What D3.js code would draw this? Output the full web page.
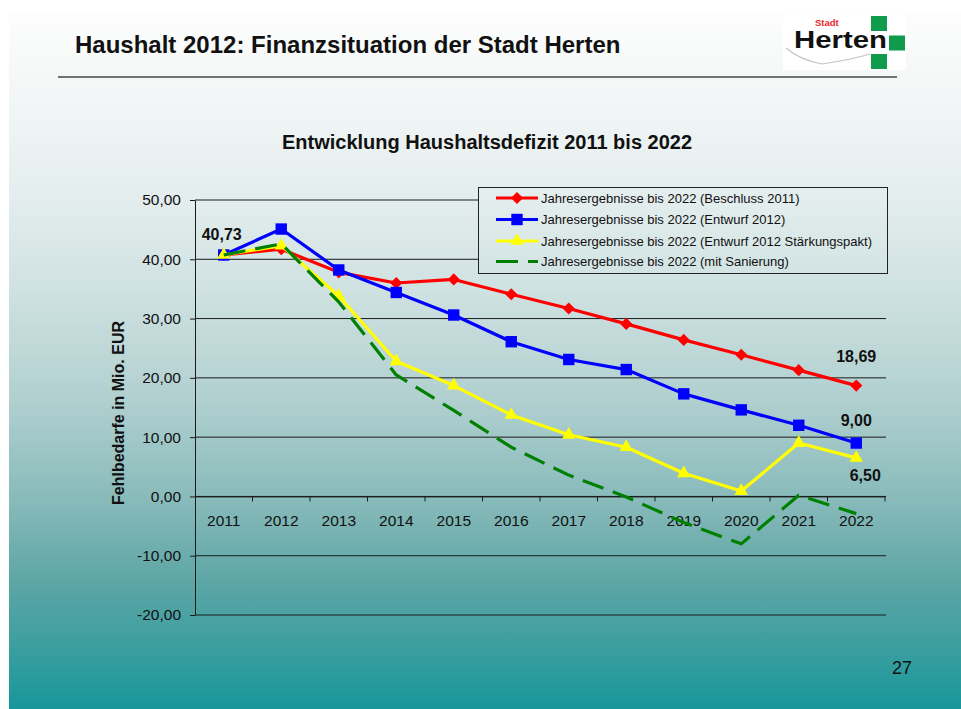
<!DOCTYPE html>
<html>
<head>
<meta charset="utf-8">
<script src="https://cdn.jsdelivr.net/npm/d3@7"></script>
<style>
    body { margin: 0; background: #fff; }
    text { font-family: "Liberation Sans", Arial, sans-serif; fill: #111; }
</style>
</head>
<body>
<div id="chart"></div>
<script>
'use strict'
/*
Haushaltsdefizit 2011-2022 (Folie 27)
*/

// Daten
const years = ['2011','2012','2013','2014','2015','2016','2017','2018','2019','2020','2021','2022'];
const beschluss_2011 = [40.73, 41.7, 37.8, 36.0, 36.6, 34.1, 31.7, 29.1, 26.4, 23.9, 21.3, 18.69];
const entwurf_2012 = [40.73, 45.1, 38.2, 34.4, 30.6, 26.1, 23.1, 21.4, 17.3, 14.6, 12.0, 9.00];
const staerkungspakt = [40.73, 42.3, 33.8, 22.8, 18.7, 13.75, 10.4, 8.3, 3.9, 0.9, 9.0, 6.50];
const sanierung = [40.73, 42.6, 32.8, 20.5, 14.5, 8.3, 3.6, -0.1, -4.4, -8.0, 0.2, -2.9];
const series_names = [
    'Jahresergebnisse bis 2022 (Beschluss 2011)',
    'Jahresergebnisse bis 2022 (Entwurf 2012)',
    'Jahresergebnisse bis 2022 (Entwurf 2012 Stärkungspakt)',
    'Jahresergebnisse bis 2022 (mit Sanierung)'
];
const y_ticks = [50, 40, 30, 20, 10, 0, -10, -20];
// Beschriftete Werte: [Reihe, Jahr]
const value_labels = [[0, '2011'], [0, '2022'], [1, '2022'], [2, '2022']];

const all_series = [beschluss_2011, entwurf_2012, staerkungspakt, sanierung];
const colors = ['#ff0000', '#0000ff', '#ffff00', '#008000'];
const markers = ['diamond', 'square', 'triangle', null];

// deutsches Zahlenformat, normales Minuszeichen
const fmt = v => d3.format('.2f')(v).replace('.', ',').replace('\u2212', '-');

const svg = d3.select('#chart').append('svg')
    .attr('width', 961)
    .attr('height', 709);

// Hintergrund (Verlauf weiss -> tuerkis), im Seitenkoordinatensystem
const grad = svg.append('defs').append('linearGradient')
    .attr('id', 'bg')
    .attr('gradientUnits', 'userSpaceOnUse')
    .attr('x1', 0).attr('y1', 13).attr('x2', 0).attr('y2', 709);
[
    [0, '#fdfdfd'], [0.12, '#f3f6f6'], [0.27, '#e3eded'], [0.41, '#cde0e0'],
    [0.56, '#b0cfcf'], [0.7, '#88baba'], [0.815, '#5ea6a6'], [0.915, '#3a9e9f'], [1, '#17979a']
].forEach(s => grad.append('stop').attr('offset', s[0]).attr('stop-color', s[1]));

svg.append('rect')
    .attr('x', 9).attr('y', 13)
    .attr('width', 952).attr('height', 696)
    .attr('fill', 'url(#bg)');

// Kopfzeile
svg.append('text')
    .text('Haushalt 2012: Finanzsituation der Stadt Herten')
    .attr('x', 75).attr('y', 53)
    .attr('font-size', 24).attr('font-weight', 'bold');
svg.append('line')
    .attr('x1', 58).attr('x2', 897).attr('y1', 77).attr('y2', 77)
    .attr('stroke', '#444').attr('stroke-width', 1.5);

// Logo
const logo = svg.append('g');
logo.append('rect').attr('x', 783).attr('y', 14).attr('width', 123).attr('height', 56).attr('fill', '#fff');
logo.append('path')
    .attr('d', 'M786,48 Q800,60 822,64 Q850,60 870,54')
    .attr('fill', 'none').attr('stroke', '#c4c4c4').attr('stroke-width', 1.2);
logo.append('text').text('Stadt')
    .attr('x', 815).attr('y', 26)
    .attr('font-size', 9.5).attr('font-weight', 'bold')
    .style('fill', '#e8262b');
logo.append('text').text('Herten')
    .attr('x', 794).attr('y', 47.5)
    .attr('font-size', 23).attr('font-weight', 'bold')
    .attr('textLength', 93).attr('lengthAdjust', 'spacingAndGlyphs')
    .style('fill', '#111');
[[871, 16], [889, 35.5], [871, 54]].forEach(p => {
    logo.append('rect')
        .attr('x', p[0]).attr('y', p[1])
        .attr('width', 16).attr('height', 15)
        .attr('fill', '#0f9a4c');
});

// Diagrammtitel
svg.append('text')
    .text('Entwicklung Haushaltsdefizit 2011 bis 2022')
    .attr('x', 487).attr('y', 149)
    .attr('text-anchor', 'middle')
    .attr('font-size', 20).attr('font-weight', 'bold');

// Skalen
const x = d3.scaleBand().domain(years).range([195, 885]).padding(0);
const y = d3.scaleLinear().domain([-20, 50]).range([615, 200]);
const cx = yr => x(yr) + x.bandwidth() / 2;

// Gitterlinien
svg.append('g')
    .selectAll('line')
    .data(y_ticks)
    .join('line')
    .attr('x1', 195).attr('x2', 886)
    .attr('y1', d => y(d)).attr('y2', d => y(d))
    .attr('stroke', '#1a1a1a').attr('stroke-width', 1);

// Y-Achse
const y_axis = svg.append('g')
    .attr('transform', 'translate(195,0)')
    .call(d3.axisLeft(y).tickValues(y_ticks).tickFormat(fmt).tickSize(5).tickSizeOuter(0).tickPadding(9));
y_axis.select('.domain').attr('stroke', '#1a1a1a');
y_axis.selectAll('.tick line').attr('stroke', '#1a1a1a');
y_axis.selectAll('.tick text')
    .attr('font-size', 15.5)
    .attr('font-family', '"Liberation Sans", Arial, sans-serif')
    .style('fill', '#111');

svg.append('text')
    .text('Fehlbedarfe in Mio. EUR')
    .attr('transform', 'translate(124,413) rotate(-90)')
    .attr('text-anchor', 'middle')
    .attr('font-size', 16).attr('font-weight', 'bold');

// X-Achse bei 0
const x_axis = svg.append('g')
    .attr('transform', 'translate(0,' + y(0) + ')')
    .call(d3.axisBottom(x).tickSize(0).tickSizeOuter(0));
x_axis.select('.domain').attr('stroke', '#1a1a1a');
x_axis.selectAll('.tick text')
    .attr('y', 30).attr('dy', null)
    .attr('font-size', 15.5)
    .attr('font-family', '"Liberation Sans", Arial, sans-serif')
    .style('fill', '#111');
// Teilstriche an den Kategoriegrenzen
x_axis.selectAll('line.edge')
    .data(years.slice(1).map(d => x(d)).concat([x.range()[1]]))
    .join('line')
    .attr('class', 'edge')
    .attr('x1', d => d).attr('x2', d => d)
    .attr('y1', 0).attr('y2', 5)
    .attr('stroke', '#1a1a1a');

// Markersymbole
function marker_path(kind, size) {
    if (kind == 'diamond') return d3.symbol(d3.symbolSquare, size)();
    if (kind == 'square') return d3.symbol(d3.symbolSquare, size)();
    if (kind == 'triangle') return d3.symbol(d3.symbolTriangle, size)();
    return null;
}
const marker_size = { diamond: 74, square: 130, triangle: 78 };

const line = d3.line()
    .x(d => cx(d.year))
    .y(d => y(d.value));

// Reihen
all_series.forEach((values, i) => {
    let pts = values.map((v, k) => ({ year: years[k], value: v }));
    let g = svg.append('g');
    g.append('path')
        .datum(pts)
        .attr('d', line)
        .attr('fill', 'none')
        .attr('stroke', colors[i])
        .attr('stroke-width', 3.2)
        .attr('stroke-linejoin', 'round')
        .attr('stroke-dasharray', markers[i] ? null : '22,10');
    if (markers[i]) {
        g.selectAll('path.mk')
            .data(pts)
            .join('path')
            .attr('class', 'mk')
            .attr('d', marker_path(markers[i], marker_size[markers[i]]))
            .attr('transform', d => 'translate(' + cx(d.year) + ',' + y(d.value) + ')' +
                (markers[i] == 'diamond' ? ' rotate(45)' : ''))
            .attr('fill', colors[i]);
    }
});

// Wertebeschriftungen
const label_offsets = [[-2, -15], [0, -24], [0, -17], [9, 23]];
value_labels.forEach((lb, i) => {
    let v = all_series[lb[0]][years.indexOf(lb[1])];
    svg.append('text')
        .text(fmt(v))
        .attr('x', cx(lb[1]) + label_offsets[i][0])
        .attr('y', y(v) + label_offsets[i][1])
        .attr('text-anchor', 'middle')
        .attr('font-size', 16).attr('font-weight', 'bold');
});

// Legende (deckend, Gitterlinien verschwinden dahinter)
const legend = svg.append('g');
legend.append('rect')
    .attr('x', 478.5).attr('y', 187.5)
    .attr('width', 409).attr('height', 86)
    .attr('fill', 'url(#bg)').attr('stroke', '#222').attr('stroke-width', 1);
const row_y = [198, 219.5, 241, 261.5];
series_names.forEach((name, i) => {
    let ry = row_y[i];
    legend.append('line')
        .attr('x1', 496).attr('x2', 538)
        .attr('y1', ry).attr('y2', ry)
        .attr('stroke', colors[i]).attr('stroke-width', 3.2)
        .attr('stroke-dasharray', markers[i] ? null : '22,10');
    if (markers[i]) {
        legend.append('path')
            .attr('d', marker_path(markers[i], marker_size[markers[i]]))
            .attr('transform', 'translate(517,' + ry + ')' + (markers[i] == 'diamond' ? ' rotate(45)' : ''))
            .attr('fill', colors[i]);
    }
    legend.append('text')
        .text(name)
        .attr('x', 541).attr('y', ry + 4.5)
        .attr('font-size', 13);
});

// Seitenzahl
svg.append('text')
    .text('27')
    .attr('x', 892).attr('y', 674)
    .attr('font-size', 18);
</script>
</body>
</html>
